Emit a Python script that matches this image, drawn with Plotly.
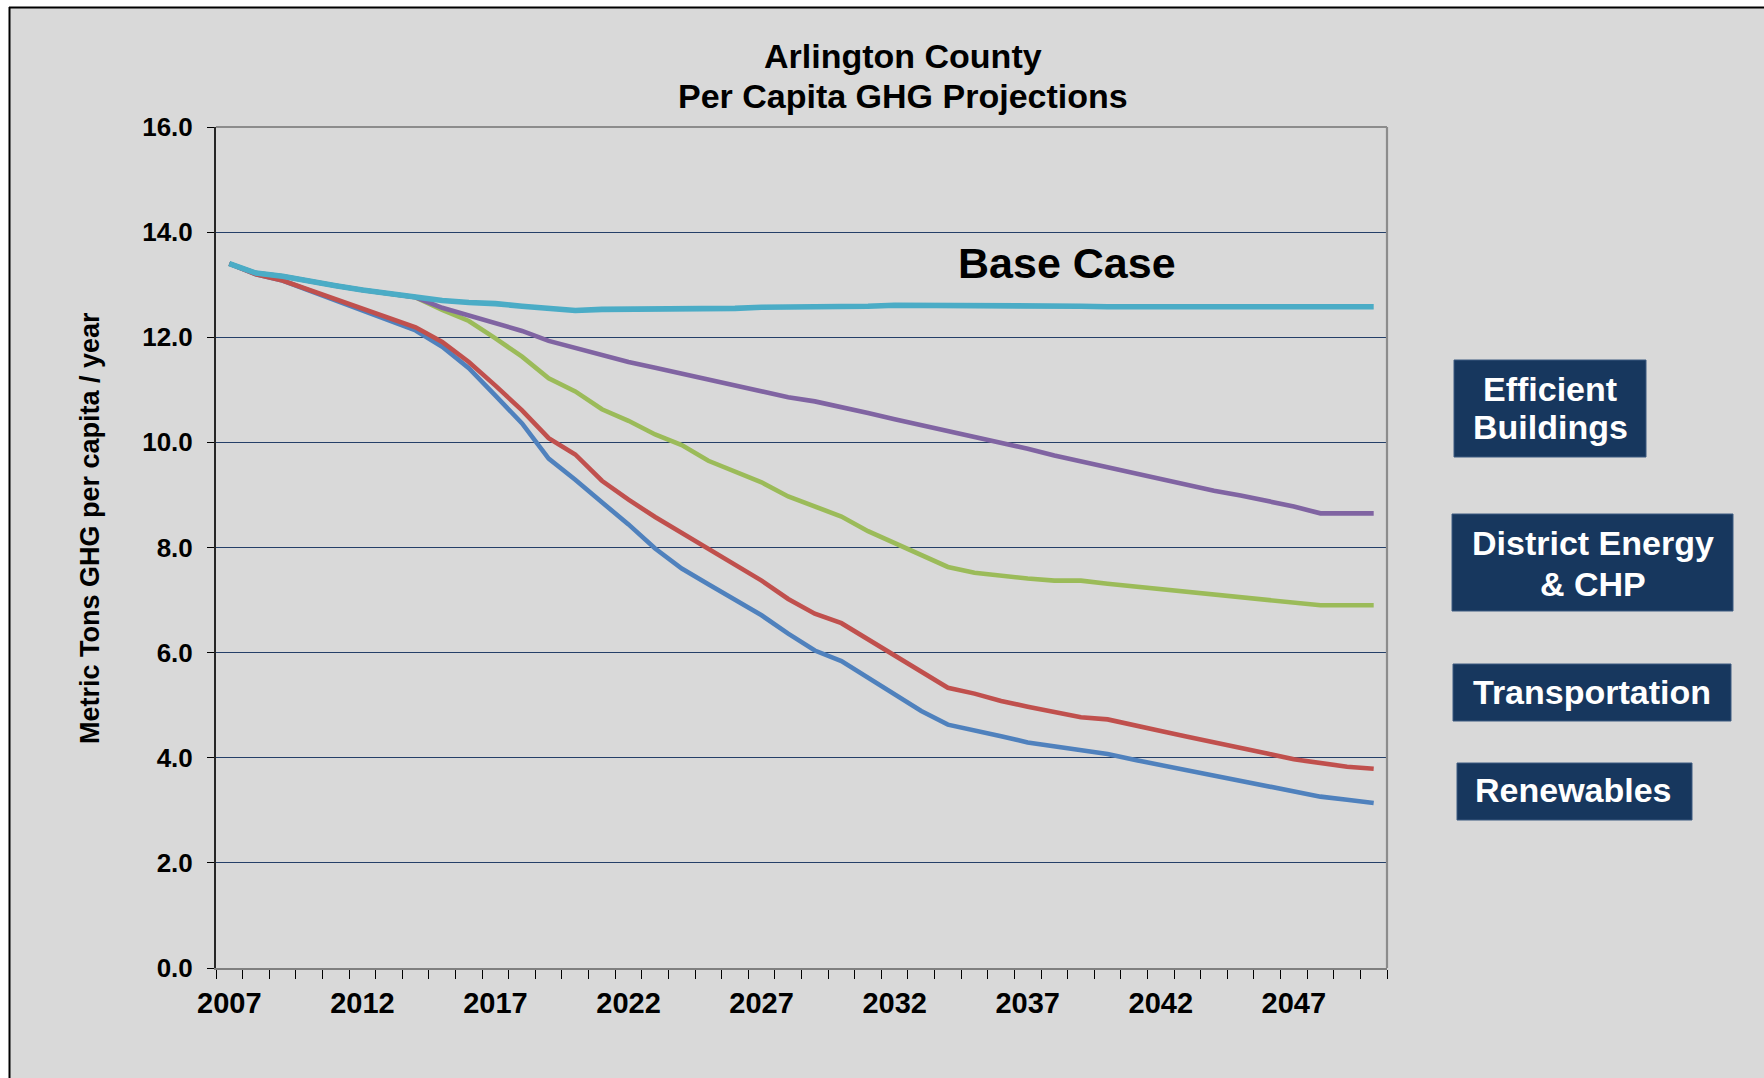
import plotly.graph_objects as go

# ---------------- data ----------------
years = list(range(2007, 2051))

base_case = [13.40, 13.22, 13.16, 13.06, 12.98, 12.90, 12.83, 12.76, 12.70, 12.66,
             12.64, 12.59, 12.55, 12.51, 12.53, 12.53, 12.53, 12.53, 12.53, 12.55,
             12.57, 12.57, 12.58, 12.59, 12.59, 12.61, 12.61, 12.61, 12.61, 12.61,
             12.59, 12.59, 12.59, 12.58, 12.58, 12.58, 12.58, 12.58, 12.58, 12.58,
             12.58, 12.58, 12.58, 12.58]

efficient_buildings = [13.40, 13.22, 13.16, 13.06, 12.98, 12.90, 12.83, 12.76,
                       12.56, 12.42, 12.27, 12.12, 11.93, 11.79, 11.67, 11.53, 11.42, 11.31,
                       11.19, 11.08, 10.96, 10.86, 10.78, 10.68, 10.56, 10.44, 10.33, 10.23,
                       10.12, 10.01, 9.88, 9.75, 9.64, 9.52, 9.40, 9.29, 9.19, 9.08,
                       8.99, 8.89, 8.78, 8.65, 8.65, 8.65]

district_energy_chp = [13.40, 13.22, 13.16, 13.06, 12.98, 12.90, 12.83, 12.76,
                       12.52, 12.31, 11.98, 11.63, 11.22, 10.97, 10.63, 10.41, 10.15, 9.95,
                       9.65, 9.44, 9.24, 8.97, 8.79, 8.59, 8.31, 8.09, 7.87, 7.63,
                       7.52, 7.46, 7.41, 7.37, 7.37, 7.31, 7.26, 7.20, 7.16, 7.11,
                       7.05, 7.01, 6.95, 6.90, 6.90, 6.90]

transportation = [13.40, 13.20, 13.08, 12.90, 12.72, 12.55, 12.38, 12.19, 11.91, 11.53,
                  11.08, 10.61, 10.08, 9.77, 9.27, 8.91, 8.58, 8.28, 7.98, 7.69,
                  7.37, 7.02, 6.74, 6.56, 6.25, 5.95, 5.65, 5.33, 5.22, 5.08,
                  4.97, 4.86, 4.77, 4.73, 4.63, 4.51, 4.40, 4.30, 4.19, 4.08,
                  3.97, 3.89, 3.83, 3.79]

renewables = [13.40, 13.20, 13.08, 12.89, 12.71, 12.52, 12.33, 12.13, 11.82, 11.41,
              10.89, 10.36, 9.69, 9.29, 8.86, 8.44, 7.98, 7.60, 7.30, 7.00,
              6.71, 6.36, 6.04, 5.84, 5.52, 5.19, 4.89, 4.63, 4.53, 4.41,
              4.29, 4.22, 4.13, 4.07, 3.96, 3.86, 3.77, 3.66, 3.56, 3.46,
              3.35, 3.26, 3.20, 3.14]

x_tick_years = years[::5]
x_tick_labels = [str(y) for y in x_tick_years]
y_ticks = [0, 2, 4, 6, 8, 10, 12, 14, 16]

title_lines = ["Arlington County", "Per Capita GHG Projections"]
y_title = "Metric Tons GHG per capita / year"
base_label = "Base Case"
box_labels = [["Efficient", "Buildings"], ["District Energy", "& CHP"], ["Transportation"], ["Renewables"]]

# ---------------- geometry helpers (pixels -> paper) ----------------
W, H = 1764, 1078
L, R, T, B = 216, 1387, 127, 968


def px(x):
    return (x - L) / (R - L)


def py(y):
    return (B - y) / (B - T)


FONT = "Liberation Sans, Arial, sans-serif"
BG = "#d9d9d9"
NAVY = "#17375e"

fig = go.Figure()

series = [
    (renewables, "#4f81bd", 4.6, "Renewables"),
    (transportation, "#c0504d", 4.6, "Transportation"),
    (district_energy_chp, "#9bbb59", 4.6, "District Energy & CHP"),
    (efficient_buildings, "#8064a2", 4.6, "Efficient Buildings"),
    (base_case, "#4bacc6", 5.6, "Base Case"),
]
for vals, col, w, name in series:
    fig.add_trace(go.Scatter(x=years, y=vals, mode="lines", name=name,
                             line=dict(color=col, width=w), showlegend=False,
                             hoverinfo="x+y+name"))

shapes = []
# outer white margins + black frame
shapes.append(dict(type="rect", xref="paper", yref="paper", x0=px(0), x1=px(W), y0=py(0), y1=py(7),
                   fillcolor="white", line=dict(width=0), layer="above"))
shapes.append(dict(type="rect", xref="paper", yref="paper", x0=px(0), x1=px(9), y0=py(0), y1=py(H),
                   fillcolor="white", line=dict(width=0), layer="above"))
shapes.append(dict(type="line", xref="paper", yref="paper", x0=px(9), x1=px(W), y0=py(7.5), y1=py(7.5),
                   line=dict(color="black", width=2.2), layer="above"))
shapes.append(dict(type="line", xref="paper", yref="paper", x0=px(9.5), x1=px(9.5), y0=py(7), y1=py(H),
                   line=dict(color="black", width=2), layer="above"))
# plot area top & right border
shapes.append(dict(type="line", xref="paper", yref="paper", x0=0, x1=1, y0=1, y1=1,
                   line=dict(color="#8c8c8c", width=2.2), layer="above"))
shapes.append(dict(type="line", xref="paper", yref="paper", x0=1, x1=1, y0=0, y1=1,
                   line=dict(color="#8c8c8c", width=2.2), layer="above"))

# label boxes (pixel rects)
boxes = [(1454, 360, 1646, 457), (1452, 514, 1733, 611), (1453, 664, 1731, 721), (1457, 763, 1692, 820)]
for (x0, y0, x1, y1) in boxes:
    shapes.append(dict(type="rect", xref="paper", yref="paper", x0=px(x0), x1=px(x1), y0=py(y1), y1=py(y0),
                       fillcolor=NAVY, line=dict(color="#3d5a80", width=1), layer="above"))

annotations = []
# title
annotations.append(dict(xref="paper", yref="paper", x=px(903), y=py(56), text="<b>" + title_lines[0] + "</b>",
                        showarrow=False, xanchor="center", yanchor="middle",
                        font=dict(family=FONT, size=34, color="black")))
annotations.append(dict(xref="paper", yref="paper", x=px(903), y=py(96), text="<b>" + title_lines[1] + "</b>",
                        showarrow=False, xanchor="center", yanchor="middle",
                        font=dict(family=FONT, size=34, color="black")))
# y-axis title
annotations.append(dict(xref="paper", yref="paper", x=px(90), y=py(528), text="<b>" + y_title + "</b>",
                        showarrow=False, xanchor="center", yanchor="middle", textangle=-90,
                        font=dict(family=FONT, size=27, color="black")))
# Base case label
annotations.append(dict(xref="paper", yref="paper", x=px(1067), y=py(263), text="<b>" + base_label + "</b>",
                        showarrow=False, xanchor="center", yanchor="middle",
                        font=dict(family=FONT, size=43, color="black")))
# box labels
line_centers = [[389, 427], [543, 584], [692], [790]]
for (x0, y0, x1, y1), lines, ys in zip(boxes, box_labels, line_centers):
    cx = (x0 + x1) / 2
    if len(lines) == 1 and lines[0] == "Renewables":
        cx = 1573
    for txt, yy in zip(lines, ys):
        annotations.append(dict(xref="paper", yref="paper", x=px(cx), y=py(yy), text="<b>" + txt + "</b>",
                                showarrow=False, xanchor="center", yanchor="middle",
                                font=dict(family=FONT, size=34, color="white")))

fig.update_layout(
    width=W, height=H,
    margin=dict(l=L, r=W - R, t=T, b=H - B, pad=0),
    paper_bgcolor=BG, plot_bgcolor=BG,
    shapes=shapes, annotations=annotations,
    font=dict(family=FONT, color="black"),
    xaxis=dict(range=[2006.5, 2050.5], tickmode="array", tickvals=x_tick_years, ticktext=x_tick_labels,
               ticks="", showline=True, linecolor="#7f7f7f", linewidth=2.2, showgrid=False, zeroline=False,
               ticklabelstandoff=8,
               tickfont=dict(family=FONT, size=29, color="black", weight="bold"),
               minor=dict(tickmode="array", tickvals=[2006.5 + i for i in range(len(years) + 1)],
                          ticks="outside", ticklen=9, tickcolor="black", tickwidth=1, showgrid=False)),
    yaxis=dict(range=[0, 16], tickmode="array", tickvals=y_ticks, tickformat=".1f",
               ticks="outside", ticklen=7, tickcolor="black", tickwidth=1,
               showline=True, linecolor="#262626", linewidth=2, showgrid=True,
               gridcolor="#243f68", gridwidth=1.4, zeroline=False,
               ticklabelstandoff=9,
               tickfont=dict(family=FONT, size=26, color="black", weight="bold")),
)

fig.write_html("out.html", config={"displayModeBar": False},
               post_script="document.body.style.margin='0';document.body.style.padding='0';"
                           "document.documentElement.style.overflow='hidden';")
